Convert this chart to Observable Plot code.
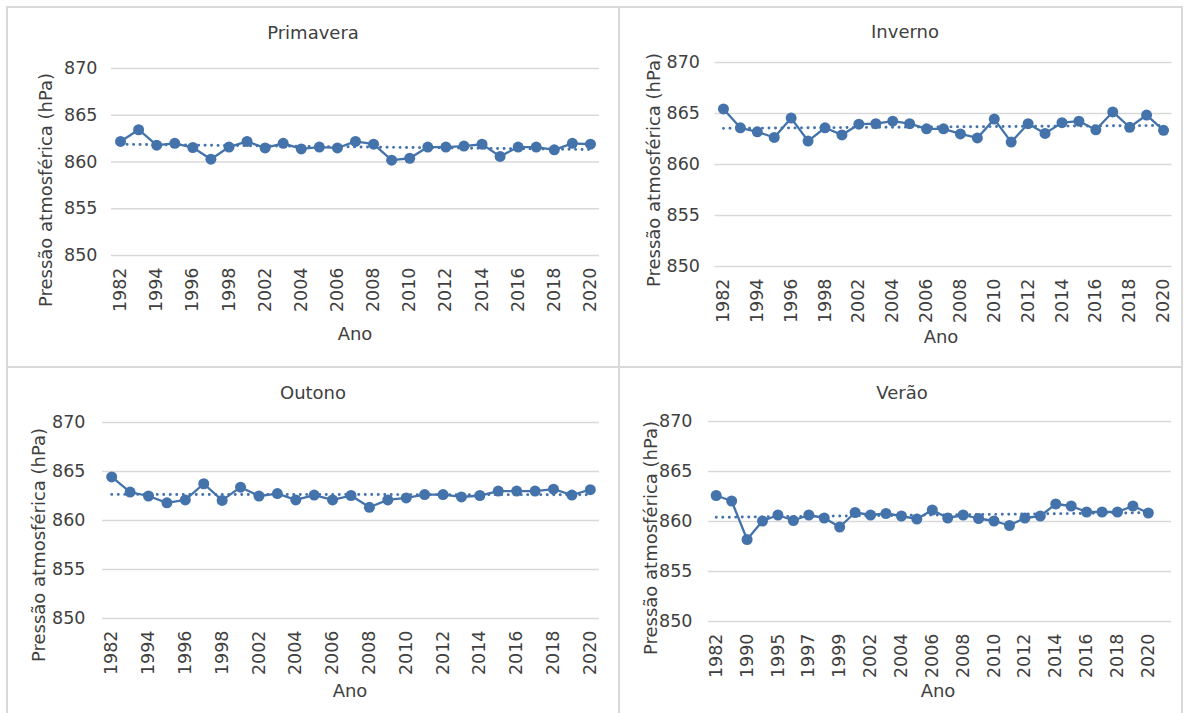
<!DOCTYPE html>
<html>
<head>
<meta charset="utf-8">
<script src="https://cdn.jsdelivr.net/npm/d3@7"></script>
<script src="https://cdn.jsdelivr.net/npm/@observablehq/plot@0.6"></script>
<style>
  html, body { margin: 0; padding: 0; background: #ffffff; }
  #root { position: relative; width: 1187px; height: 713px; overflow: hidden; background: #fff;
          font-family: "DejaVu Sans", Verdana, sans-serif; color: #404040; }
  .panel { position: absolute; }
  .lbl { position: absolute; white-space: nowrap; transform: translate(-50%, -50%); font-size: 18px; color: #404040; }
  .rot { transform: translate(-50%, -50%) rotate(-90deg); }
  .bline { position: absolute; background: #d9d9d9; }
</style>
</head>
<body>
<div id="root"></div>
<script>
// ---------- data ----------
const yTicks = [850, 855, 860, 865, 870];

const primaveraYears = ["1982","1993","1994","1995","1996","1997","1998","2001","2002","2003","2004","2005","2006","2007","2008","2009","2010","2011","2012","2013","2014","2015","2016","2017","2018","2019","2020"];
const primaveraValues = [862.2,863.45,861.8,862.0,861.55,860.3,861.6,862.2,861.5,862.0,861.4,861.6,861.5,862.2,861.9,860.2,860.4,861.6,861.6,861.7,861.9,860.6,861.6,861.6,861.3,862.0,861.9];

const invernoYears = ["1982","1993","1994","1995","1996","1997","1998","2001","2002","2003","2004","2005","2006","2007","2008","2009","2010","2011","2012","2013","2014","2015","2016","2017","2018","2019","2020"];
const invernoValues = [865.45,863.6,863.2,862.65,864.55,862.3,863.6,862.9,863.95,864.0,864.25,864.0,863.5,863.5,863.0,862.6,864.45,862.2,864.0,863.05,864.1,864.25,863.4,865.15,863.65,864.85,863.35];

const outonoYears = ["1982","1993","1994","1995","1996","1997","1998","2001","2002","2003","2004","2005","2006","2007","2008","2009","2010","2011","2012","2013","2014","2015","2016","2017","2018","2019","2020"];
const outonoValues = [864.45,862.9,862.5,861.8,862.1,863.75,862.05,863.4,862.5,862.75,862.1,862.6,862.1,862.55,861.35,862.1,862.3,862.65,862.65,862.4,862.55,863.0,863.0,863.0,863.2,862.6,863.15];

const veraoYears = ["1982","1989","1990","1994","1995","1996","1997","1998","1999","2001","2002","2003","2004","2005","2006","2007","2008","2009","2010","2011","2012","2013","2014","2015","2016","2017","2018","2019","2020",""];
const veraoValues = [862.6,862.05,858.2,860.05,860.65,860.1,860.65,860.35,859.45,860.9,860.65,860.8,860.55,860.25,861.15,860.35,860.65,860.3,860.05,859.6,860.35,860.55,861.75,861.55,860.95,860.95,860.95,861.55,860.85];

const panelTitles = ["Primavera", "Inverno", "Outono", "Verão"];
const xTitle = "Ano";
const yTitle = "Pressão atmosférica (hPa)";

// ---------- layout ----------
const BLUE = "#4473ab";
const root = document.getElementById("root");

function makePanel(cfg) {
  const data = cfg.values.map((v, i) => ({i, v}));
  const n = cfg.years.length;
  const evenIdx = d3.range(0, n, 2).filter(i => cfg.years[i] !== "");
  const chart = Plot.plot({
    width: cfg.w, height: cfg.h,
    marginLeft: cfg.ml, marginRight: cfg.mr, marginTop: cfg.mt, marginBottom: cfg.mb,
    style: {fontFamily: "DejaVu Sans, Verdana, sans-serif", fontSize: "17.5px", color: "#404040", background: "transparent", overflow: "visible"},
    x: {domain: [-0.5, n - 0.5], ticks: evenIdx, tickFormat: i => cfg.years[i], tickRotate: -90, tickSize: 0, tickPadding: cfg.xpad, label: null},
    y: {domain: [850, 870], ticks: yTicks, tickSize: 0, tickPadding: cfg.ypad, label: null},
    marks: [
      Plot.ruleY(yTicks, {stroke: "#d9d9d9", strokeWidth: 1.4}),
      Plot.linearRegressionY(data, {x: "i", y: "v", stroke: BLUE, strokeWidth: 2.9, strokeDasharray: "0.1 6.4", strokeLinecap: "round", ci: 0}),
      Plot.line(data, {x: "i", y: "v", stroke: BLUE, strokeWidth: 2.3}),
      Plot.dot(data, {x: "i", y: "v", r: 5.5, fill: BLUE, stroke: "none"})
    ]
  });
  const div = document.createElement("div");
  div.className = "panel";
  div.style.left = cfg.x + "px";
  div.style.top = cfg.y + "px";
  div.appendChild(chart);
  root.appendChild(div);

  function label(text, cx, cy, rot) {
    const d = document.createElement("div");
    d.className = "lbl" + (rot ? " rot" : "");
    d.style.left = cx + "px";
    d.style.top = cy + "px";
    d.textContent = text;
    root.appendChild(d);
  }
  label(cfg.title, cfg.tx, cfg.ty, false);
  label(xTitle, cfg.ax, cfg.ay, false);
  label(yTitle, cfg.yx, cfg.yy, true);
}

makePanel({title: panelTitles[0], years: primaveraYears, values: primaveraValues,
  x: 8, y: 8, w: 611, h: 359, ml: 103, mr: 20, mt: 60, mb: 112, xpad: 12, ypad: 14,
  tx: 313, ty: 32, ax: 355, ay: 333, yx: 45, yy: 190});
makePanel({title: panelTitles[1], years: invernoYears, values: invernoValues,
  x: 620, y: 8, w: 562, h: 359, ml: 94.5, mr: 10.5, mt: 54, mb: 101, xpad: 12, ypad: 15,
  tx: 905, ty: 31, ax: 941, ay: 336, yx: 653, yy: 170});
makePanel({title: panelTitles[2], years: outonoYears, values: outonoValues,
  x: 8, y: 369, w: 611, h: 344, ml: 94, mr: 20, mt: 53, mb: 95, xpad: 12, ypad: 17,
  tx: 313, ty: 392, ax: 350, ay: 690, yx: 38, yy: 545});
makePanel({title: panelTitles[3], years: veraoYears, values: veraoValues,
  x: 620, y: 369, w: 562, h: 344, ml: 88, mr: 11, mt: 52, mb: 92, xpad: 12, ypad: 16,
  tx: 902, ty: 392, ax: 938, ay: 690, yx: 650, yy: 538});

// panel borders
function bl(l, t, w, h) {
  const d = document.createElement("div");
  d.className = "bline";
  d.style.left = l + "px"; d.style.top = t + "px"; d.style.width = w + "px"; d.style.height = h + "px";
  root.appendChild(d);
}
bl(6, 6, 1177, 2);     // top
bl(6, 6, 2, 707);      // left
bl(618, 6, 2, 707);    // middle vertical
bl(6, 366, 1177, 2);   // middle horizontal
bl(1181, 6, 2, 707);   // right
</script>
</body>
</html>
